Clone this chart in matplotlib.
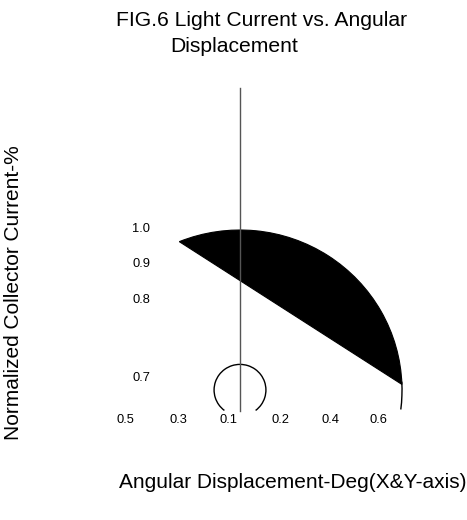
import matplotlib
matplotlib.use("Agg")
import matplotlib.pyplot as plt
from matplotlib.path import Path
from matplotlib.patches import PathPatch, Arc

plt.rcParams['font.family'] = ['Liberation Sans', 'DejaVu Sans']

# polar pattern data (angle measured from the vertical axis, degrees)
rel_current = 1.0            # normalized current on the big lobe
lobe_angles = [-22, 88]      # filled part of the lobe
tail_angle = 97              # where the thin outline stops
small_radius = 0.16          # small loop at the origin
small_gap = 37               # half opening of the small loop (around 180 deg)
axis_span = [-0.13, 1.89]    # vertical 0-deg axis

# tick labels as printed on the sheet
x_labels = ['0.5', '0.3', '0.1', '0.2', '0.4', '0.6']
x_label_pos = [-0.71, -0.377, -0.074, 0.247, 0.556, 0.852]
y_labels = ['1.0', '0.9', '0.8', '0.7']
y_label_pos = [1.006, 0.79, 0.565, 0.075]

fig = plt.figure(figsize=(4.67, 5.2), dpi=100)
ax = fig.add_axes([0, 0, 1, 1])
ax.set_xlim(-240 / 162, 227 / 162)
ax.set_ylim(-130 / 160, 390 / 160)
ax.axis('off')

# filled lobe: arc plus chord
arc = Path.arc(90 - lobe_angles[1], 90 - lobe_angles[0])
verts = list(arc.vertices * rel_current) + [(0, 0)]
codes = list(arc.codes) + [Path.CLOSEPOLY]
ax.add_patch(PathPatch(Path(verts, codes), facecolor='black', edgecolor='black', lw=0.8))

# thin outline continuing below
ax.add_patch(Arc((0, 0), 2 * rel_current, 2 * rel_current,
                 theta1=90 - tail_angle, theta2=90 - lobe_angles[1] + 1,
                 color='black', lw=1))

# small loop
ax.add_patch(Arc((0, 0), 2 * small_radius, 2 * small_radius,
                 theta1=270 + small_gap, theta2=270 - small_gap + 360,
                 color='black', lw=1))

ax.plot([0, 0], axis_span, color='#555555', lw=1)

for lab, p in zip(x_labels, x_label_pos):
    ax.text(p, -0.1875, lab, ha='center', va='center', fontsize=9.3)
for lab, p in zip(y_labels, y_label_pos):
    ax.text(-0.611, p, lab, ha='center', va='center', fontsize=9.3)

fig.text(262 / 467, 1 - 20 / 520, 'FIG.6 Light Current vs. Angular',
         ha='center', va='center', fontsize=15.2)
fig.text(234 / 467, 1 - 46 / 520, 'Displacement',
         ha='center', va='center', fontsize=15.2)
fig.text(293 / 467, 1 - 483 / 520, 'Angular Displacement-Deg(X&Y-axis)',
         ha='center', va='center', fontsize=15)
fig.text(14 / 467, 1 - 293 / 520, 'Normalized Collector Current-%',
         ha='center', va='center', rotation=90, fontsize=15)

fig.savefig('out.png', dpi=100)
